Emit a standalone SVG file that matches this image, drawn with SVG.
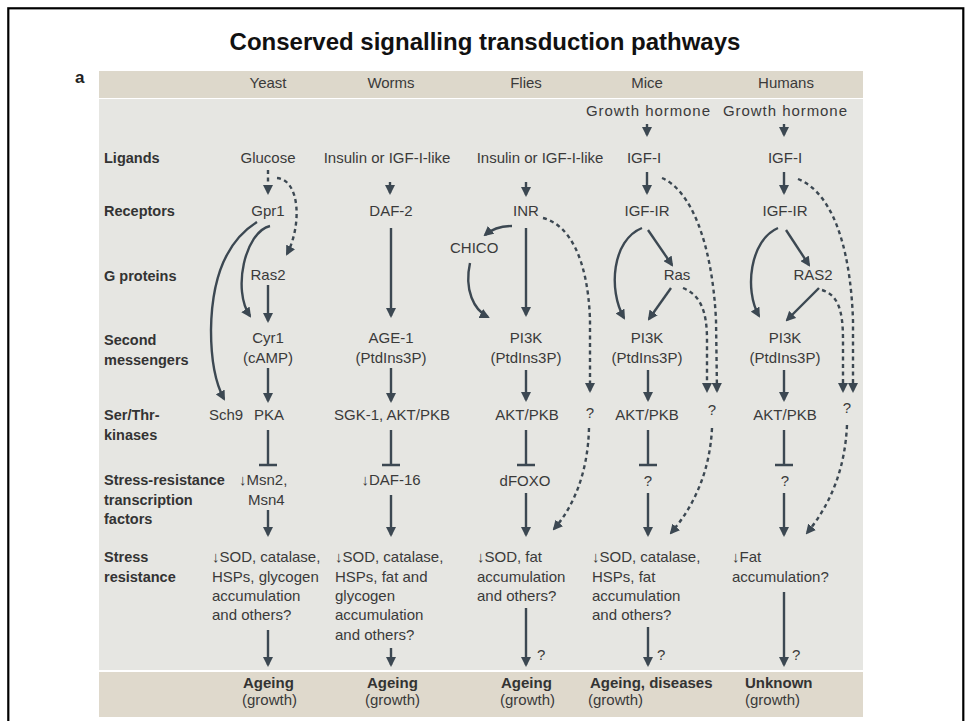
<svg xmlns="http://www.w3.org/2000/svg" width="969" height="721" viewBox="0 0 969 721">
<defs>
<marker id="ah" viewBox="0 0 10 10" refX="8" refY="5" markerWidth="10" markerHeight="10" markerUnits="userSpaceOnUse" orient="auto"><path d="M0,0 L10,5 L0,10 z" fill="#3c4852"/></marker>
<style>
.t{font-family:"Liberation Sans",Arial,sans-serif;font-size:15px;fill:#3a3a3a}
.c{text-anchor:middle}
.rl{font-family:"Liberation Sans",Arial,sans-serif;font-size:14.5px;font-weight:bold;fill:#333}
.ft{font-family:"Liberation Sans",Arial,sans-serif;font-size:15px;font-weight:bold;fill:#333}
.a{fill:none;stroke:#3c4852;stroke-width:2.4;marker-end:url(#ah)}
.d{fill:none;stroke:#3c4852;stroke-width:2.4;stroke-dasharray:4 3.5;marker-end:url(#ah)}
.i{fill:none;stroke:#3c4852;stroke-width:2.4}
</style>
</defs>
<rect x="0" y="0" width="969" height="721" fill="#ffffff"/>
<rect x="8.3" y="8.3" width="955" height="740" fill="none" stroke="#000" stroke-width="2.2"/>
<text x="485" y="50" text-anchor="middle" font-family="Liberation Sans, Arial, sans-serif" font-size="24" font-weight="bold" fill="#111">Conserved signalling transduction pathways</text>
<text x="75" y="83" font-family="Liberation Sans, Arial, sans-serif" font-size="17" font-weight="bold" fill="#222">a</text>
<g id="panel">
<rect x="99" y="71" width="764" height="27" fill="#ddd8cb"/>
<rect x="99" y="99" width="764" height="571" fill="#e6e6e2"/>
<rect x="99" y="672" width="764" height="45" fill="#dfd9cc"/>
</g>
<g id="header">
<text class="t c" x="268" y="88">Yeast</text>
<text class="t c" x="391" y="88">Worms</text>
<text class="t c" x="526" y="88">Flies</text>
<text class="t c" x="647" y="88">Mice</text>
<text class="t c" x="786" y="88">Humans</text>
</g>
<g id="row-labels">
<text class="rl" x="104" y="163">Ligands</text>
<text class="rl" x="104" y="216">Receptors</text>
<text class="rl" x="104" y="281">G proteins</text>
<text class="rl" x="104" y="345">Second</text>
<text class="rl" x="104" y="365">messengers</text>
<text class="rl" x="104" y="420">Ser/Thr-</text>
<text class="rl" x="104" y="439.5">kinases</text>
<text class="rl" x="104" y="485">Stress-resistance</text>
<text class="rl" x="104" y="505">transcription</text>
<text class="rl" x="104" y="524">factors</text>
<text class="rl" x="104" y="562">Stress</text>
<text class="rl" x="104" y="582">resistance</text>
</g>
<g id="yeast">
<text id="glucose" class="t c" x="268" y="163">Glucose</text>
<text id="gpr1" class="t c" x="268" y="216">Gpr1</text>
<text id="ras2" class="t c" x="268" y="280">Ras2</text>
<text id="cyr1" class="t c" x="268" y="343">Cyr1</text>
<text id="camp" class="t c" x="268" y="363">(cAMP)</text>
<text id="sch9" class="t c" x="226" y="420">Sch9</text>
<text id="pka" class="t c" x="269" y="420">PKA</text>
<text id="msn" class="t" x="239" y="485">↓Msn2,</text>
<text class="t" x="248" y="505">Msn4</text>
<g id="yeast-stress">
<text class="t" x="212" y="562">↓SOD, catalase,</text>
<text class="t" x="212" y="582">HSPs, glycogen</text>
<text class="t" x="212" y="601">accumulation</text>
<text class="t" x="212" y="620">and others?</text>
</g>
<g id="yeast-out">
<text class="ft" x="243" y="688">Ageing</text>
<text class="t" x="242" y="705">(growth)</text>
</g>
</g>
<g id="worms">
<text class="t c" x="387" y="163">Insulin or IGF-I-like</text>
<text id="daf2" class="t c" x="391" y="216">DAF-2</text>
<text id="age1" class="t c" x="391" y="343">AGE-1</text>
<text class="t c" x="391" y="363">(PtdIns3P)</text>
<text id="sgk1" class="t c" x="392" y="420">SGK-1, AKT/PKB</text>
<text id="daf16" class="t c" x="391" y="485">↓DAF-16</text>
<g id="worms-stress">
<text class="t" x="335" y="562">↓SOD, catalase,</text>
<text class="t" x="335" y="582">HSPs, fat and</text>
<text class="t" x="335" y="601">glycogen</text>
<text class="t" x="335" y="620">accumulation</text>
<text class="t" x="335" y="640">and others?</text>
</g>
<g id="worms-out">
<text class="ft" x="367" y="688">Ageing</text>
<text class="t" x="365" y="705">(growth)</text>
</g>
</g>
<g id="flies">
<text class="t c" x="540" y="163">Insulin or IGF-I-like</text>
<text id="inr" class="t c" x="526" y="216">INR</text>
<text id="chico" class="t" x="450" y="253">CHICO</text>
<text id="pi3k-f" class="t c" x="526" y="343">PI3K</text>
<text class="t c" x="526" y="363">(PtdIns3P)</text>
<text id="akt-f" class="t c" x="527" y="420">AKT/PKB</text>
<text class="t c" x="590" y="418">?</text>
<text id="dfoxo" class="t c" x="525" y="486">dFOXO</text>
<g id="flies-stress">
<text class="t" x="477" y="562">↓SOD, fat</text>
<text class="t" x="477" y="582">accumulation</text>
<text class="t" x="477" y="601">and others?</text>
</g>
<text class="t" x="537" y="660">?</text>
<g id="flies-out">
<text class="ft" x="501" y="688">Ageing</text>
<text class="t" x="500" y="705">(growth)</text>
</g>
</g>
<g id="mice">
<text class="t c" x="648" y="116" textLength="124">Growth hormone</text>
<text id="igf1-m" class="t c" x="644" y="163">IGF-I</text>
<text id="igf1r-m" class="t c" x="647" y="216">IGF-IR</text>
<text id="ras-m" class="t c" x="677" y="280">Ras</text>
<text id="pi3k-m" class="t c" x="647" y="343">PI3K</text>
<text class="t c" x="647" y="363">(PtdIns3P)</text>
<text id="akt-m" class="t c" x="647" y="420">AKT/PKB</text>
<text class="t c" x="712" y="415">?</text>
<text class="t c" x="648" y="486">?</text>
<g id="mice-stress">
<text class="t" x="592" y="562">↓SOD, catalase,</text>
<text class="t" x="592" y="582">HSPs, fat</text>
<text class="t" x="592" y="601">accumulation</text>
<text class="t" x="592" y="620">and others?</text>
</g>
<text class="t" x="657" y="660">?</text>
<g id="mice-out">
<text class="ft" x="590" y="688">Ageing, diseases</text>
<text class="t" x="588" y="705">(growth)</text>
</g>
</g>
<g id="humans">
<text class="t c" x="785" y="116" textLength="124">Growth hormone</text>
<text id="igf1-h" class="t c" x="785" y="163">IGF-I</text>
<text id="igf1r-h" class="t c" x="785" y="216">IGF-IR</text>
<text id="ras2-h" class="t c" x="813" y="280">RAS2</text>
<text id="pi3k-h" class="t c" x="785" y="343">PI3K</text>
<text class="t c" x="785" y="363">(PtdIns3P)</text>
<text id="akt-h" class="t c" x="785" y="420">AKT/PKB</text>
<text class="t c" x="847" y="413">?</text>
<text class="t c" x="785" y="486">?</text>
<g id="humans-stress">
<text class="t" x="732" y="562">↓Fat</text>
<text class="t" x="732" y="582">accumulation?</text>
</g>
<text class="t" x="792" y="660">?</text>
<g id="humans-out">
<text class="ft" x="745" y="688">Unknown</text>
<text class="t" x="745" y="705">(growth)</text>
</g>
</g>
<g id="connectors">
<path class="d" d="M268 170 L268 193"/>
<path class="d" d="M277 178 C300 180 302 225 287 254"/>
<path class="a" d="M270 226 C245 232 232 290 250 316"/>
<path class="a" d="M257 222 Q212 250 211 330 Q211 375 224 399"/>
<path class="a" d="M268 285 L268 321"/>
<path class="a" d="M268 368 L268 401"/>
<path class="i" d="M268 430 L268 465 M259 465 L277 465"/>
<path class="a" d="M268 510 L268 535"/>
<path class="a" d="M268 630 L268 665"/>
<path class="a" d="M390 182 L390 193"/>
<path class="a" d="M391 228 L391 316"/>
<path class="a" d="M391 368 L391 401"/>
<path class="i" d="M391 430 L391 465 M382 465 L400 465"/>
<path class="a" d="M391 495 L391 535"/>
<path class="a" d="M391 648 L391 665"/>
<path class="a" d="M526 182 L526 195"/>
<path class="a" d="M512 226 C500 226 492 229 485 235"/>
<path class="a" d="M470 263 C464 290 474 310 488 317"/>
<path class="a" d="M526 228 L526 315"/>
<path class="d" d="M543 218 C570 225 588 260 590 320 L590 391"/>
<path class="a" d="M526 370 L526 400"/>
<path class="i" d="M526 430 L526 465 M517 465 L535 465"/>
<path class="a" d="M526 493 L526 535"/>
<path class="d" d="M589 428 C588 470 575 505 554 529"/>
<path class="a" d="M526 608 L526 665"/>
<path class="a" d="M647 124 L647 135"/>
<path class="a" d="M647 172 L647 193"/>
<path class="a" d="M648 230 L672 265"/>
<path class="a" d="M642 228 C612 240 608 290 624 318"/>
<path class="a" d="M671 288 L649 319"/>
<path class="d" d="M662 178 C690 190 712 240 716 320 L717 391"/>
<path class="d" d="M683 288 C700 295 707 310 707 340 L707 391"/>
<path class="a" d="M648 370 L648 400"/>
<path class="i" d="M648 430 L648 465 M639 465 L657 465"/>
<path class="a" d="M648 493 L648 535"/>
<path class="d" d="M712 428 C710 470 695 505 671 533"/>
<path class="a" d="M648 627 L648 665"/>
<path class="a" d="M784 124 L784 135"/>
<path class="a" d="M784 172 L784 193"/>
<path class="a" d="M786 230 L809 265"/>
<path class="a" d="M778 228 C750 240 744 290 759 316"/>
<path class="a" d="M819 288 L787 320"/>
<path class="d" d="M798 179 C830 192 850 240 853 320 L853 391"/>
<path class="d" d="M822 290 C838 295 843 310 843 340 L843 391"/>
<path class="a" d="M784 370 L784 400"/>
<path class="i" d="M784 430 L784 465 M775 465 L793 465"/>
<path class="a" d="M784 493 L784 535"/>
<path class="d" d="M847 425 C845 470 830 505 807 533"/>
<path class="a" d="M784 592 L784 665"/>
</g>
</svg>
